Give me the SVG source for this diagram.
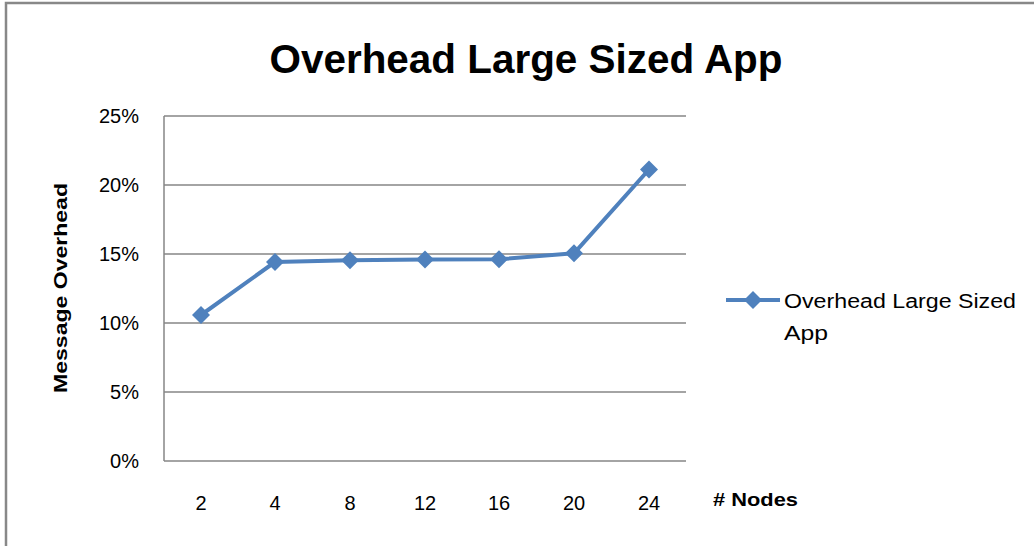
<svg xmlns="http://www.w3.org/2000/svg" width="1034" height="546" viewBox="0 0 1034 546">
<style>
.grid{stroke:#868686;stroke-width:1.5;fill:none}
.tick{font-family:"Liberation Sans",Arial,sans-serif;font-size:20px;fill:#000}
.series{stroke:#4F81BD;stroke-width:4;fill:none;stroke-linejoin:round}
.mk{fill:#4F81BD}
.bold{font-family:"Liberation Sans",Arial,sans-serif;font-weight:bold;fill:#000}
</style>
<defs>
<path id="dia" d="M0,-9 L9,0 L0,9 L-9,0 Z" class="mk"/>
</defs>
<rect x="0" y="0" width="1034" height="546" fill="#fff"/>
<rect x="6" y="3" width="1040" height="560" fill="#fff" stroke="#888" stroke-width="2.5"/>
<text class="bold" x="526" y="73" font-size="40" text-anchor="middle" textLength="513" lengthAdjust="spacingAndGlyphs">Overhead Large Sized App</text>
<g id="gridlines">
<line class="grid" x1="164" y1="116" x2="686" y2="116"/>
<line class="grid" x1="164" y1="185" x2="686" y2="185"/>
<line class="grid" x1="164" y1="254" x2="686" y2="254"/>
<line class="grid" x1="164" y1="323" x2="686" y2="323"/>
<line class="grid" x1="164" y1="392" x2="686" y2="392"/>
<line class="grid" x1="164" y1="461" x2="686" y2="461"/>
<line class="grid" x1="164" y1="116" x2="164" y2="461"/>
</g>
<g id="y-labels" text-anchor="end">
<text class="tick" x="139" y="123">25%</text>
<text class="tick" x="139" y="192">20%</text>
<text class="tick" x="139" y="261">15%</text>
<text class="tick" x="139" y="330">10%</text>
<text class="tick" x="139" y="399">5%</text>
<text class="tick" x="139" y="468">0%</text>
</g>
<g id="x-labels" text-anchor="middle">
<text class="tick" x="201" y="510">2</text>
<text class="tick" x="275" y="510">4</text>
<text class="tick" x="350" y="510">8</text>
<text class="tick" x="425" y="510">12</text>
<text class="tick" x="499" y="510">16</text>
<text class="tick" x="574" y="510">20</text>
<text class="tick" x="649" y="510">24</text>
</g>
<text class="bold" x="60" y="288" font-size="19" text-anchor="middle" transform="rotate(-90 60 288)" dy="7" textLength="210" lengthAdjust="spacingAndGlyphs">Message Overhead</text>
<text class="bold" x="713" y="506" font-size="19" textLength="85" lengthAdjust="spacingAndGlyphs"># Nodes</text>
<g id="connectors">
<polyline class="series" points="201,315 275,262 350,260.3 425,259.5 499,259.3 574,253.3 649,169.5"/>
</g>
<g id="markers">
<use href="#dia" x="201" y="315"/>
<use href="#dia" x="275" y="262"/>
<use href="#dia" x="350" y="260.3"/>
<use href="#dia" x="425" y="259.5"/>
<use href="#dia" x="499" y="259.3"/>
<use href="#dia" x="574" y="253.3"/>
<use href="#dia" x="649" y="169.5"/>
</g>
<g id="legend">
<line class="series" x1="726" y1="300" x2="780" y2="300"/>
<use href="#dia" x="753" y="300"/>
<text class="tick" x="784" y="308" font-size="21" textLength="232" lengthAdjust="spacingAndGlyphs">Overhead Large Sized</text>
<text class="tick" x="784" y="340" font-size="21" textLength="44" lengthAdjust="spacingAndGlyphs">App</text>
</g>
</svg>
